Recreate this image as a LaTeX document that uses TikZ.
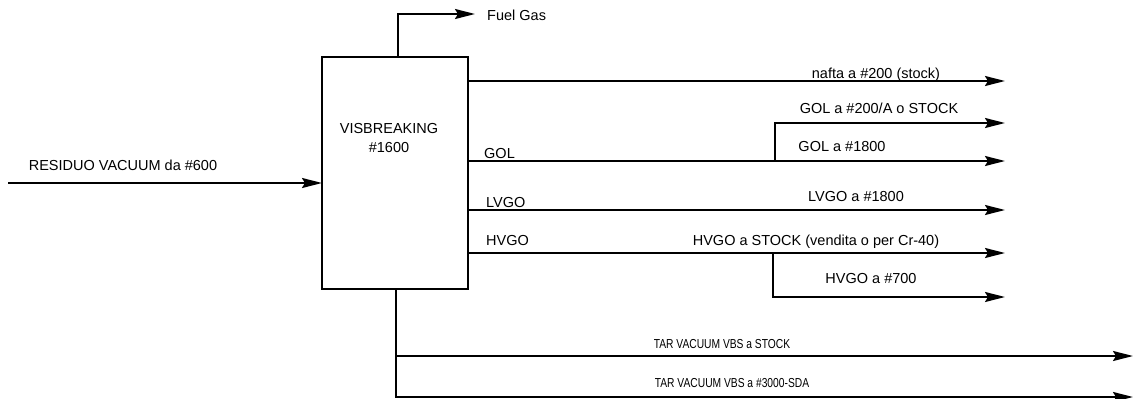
\documentclass[tikz,border=0pt]{standalone}
\usepackage{fontspec}
\usepackage{graphicx}
\setmainfont{Liberation Sans}
\usetikzlibrary{arrows.meta}
\tikzset{
  flow/.style={line width=2pt, -{Stealth[length=20pt,width=10pt,inset=3pt]}},
  lbl/.style={anchor=base, inner sep=0pt, font=\fontsize{14.5}{17}\selectfont},
  tarlbl/.style={anchor=base, inner sep=0pt, font=\fontsize{13}{15}\selectfont},
  unit/.style={draw, line width=2pt, minimum width=146pt, minimum height=232pt, inner sep=0pt}
}
\begin{document}
\begin{tikzpicture}[x=1pt,y=-1pt]
\useasboundingbox (0,0) rectangle (1133,399);
% unit box
\node[unit] (vb) at (395,173) {};
\node[lbl, align=center] (vbt) at (389,152) {VISBREAKING\\[2pt]\#1600};
% coordinates
\coordinate (resS) at (8,183);
\coordinate (resE) at (322,183);
\coordinate (fgS) at (398,57);
\coordinate (fgE) at (475,14);
\coordinate (naS) at (468,81);
\coordinate (naE) at (1005,81);
\coordinate (golS) at (468,161);
\coordinate (golJ) at (775,161);
\coordinate (golE1) at (1005,161);
\coordinate (golE2) at (1005,123);
\coordinate (lvS) at (468,210);
\coordinate (lvE) at (1005,210);
\coordinate (hvS) at (468,253);
\coordinate (hvJ) at (773,253);
\coordinate (hvE1) at (1005,253);
\coordinate (hvE2) at (1005,297);
\coordinate (tarS) at (396,289);
\coordinate (tarJ) at (396,356);
\coordinate (tarE1) at (1133,356);
\coordinate (tarE2) at (1133,397);
% connectors
\draw[flow] (resS) -- (resE);
\draw[flow] (fgS) |- (fgE);
\draw[flow] (naS) -- (naE);
\draw[flow] (golS) -- (golE1);
\draw[flow] (golJ) |- (golE2);
\draw[flow] (lvS) -- (lvE);
\draw[flow] (hvS) -- (hvE1);
\draw[flow] (hvJ) |- (hvE2);
\draw[flow] (tarS) |- (tarE2);
\draw[flow] (tarJ) -- (tarE1);
% labels
\node[lbl, anchor=base west] (lfg) at (487,20) {Fuel Gas};
\node[lbl] (lres) at (123,170) {RESIDUO VACUUM da \#600};
\node[lbl] (lna) at (876,78) {nafta a \#200 (stock)};
\node[lbl] (lgol2) at (879,113) {GOL a \#200/A o STOCK};
\node[lbl] (lgol1) at (842,151) {GOL a \#1800};
\node[lbl, anchor=base west] (lgol) at (484,158) {GOL};
\node[lbl] (llv) at (856,201) {LVGO a \#1800};
\node[lbl, anchor=base west] (llvgo) at (486,207) {LVGO};
\node[lbl, anchor=base west] (lhvgo) at (486,245) {HVGO};
\node[lbl] (lhv1) at (816,245) {HVGO a STOCK (vendita o per Cr-40)};
\node[lbl] (lhv2) at (871,283) {HVGO a \#700};
\node[tarlbl] (lt1) at (722,348) {\scalebox{0.79}[1]{TAR VACUUM VBS a STOCK}};
\node[tarlbl] (lt2) at (732,387) {\scalebox{0.79}[1]{TAR VACUUM VBS a \#3000-SDA}};
\end{tikzpicture}
\end{document}
